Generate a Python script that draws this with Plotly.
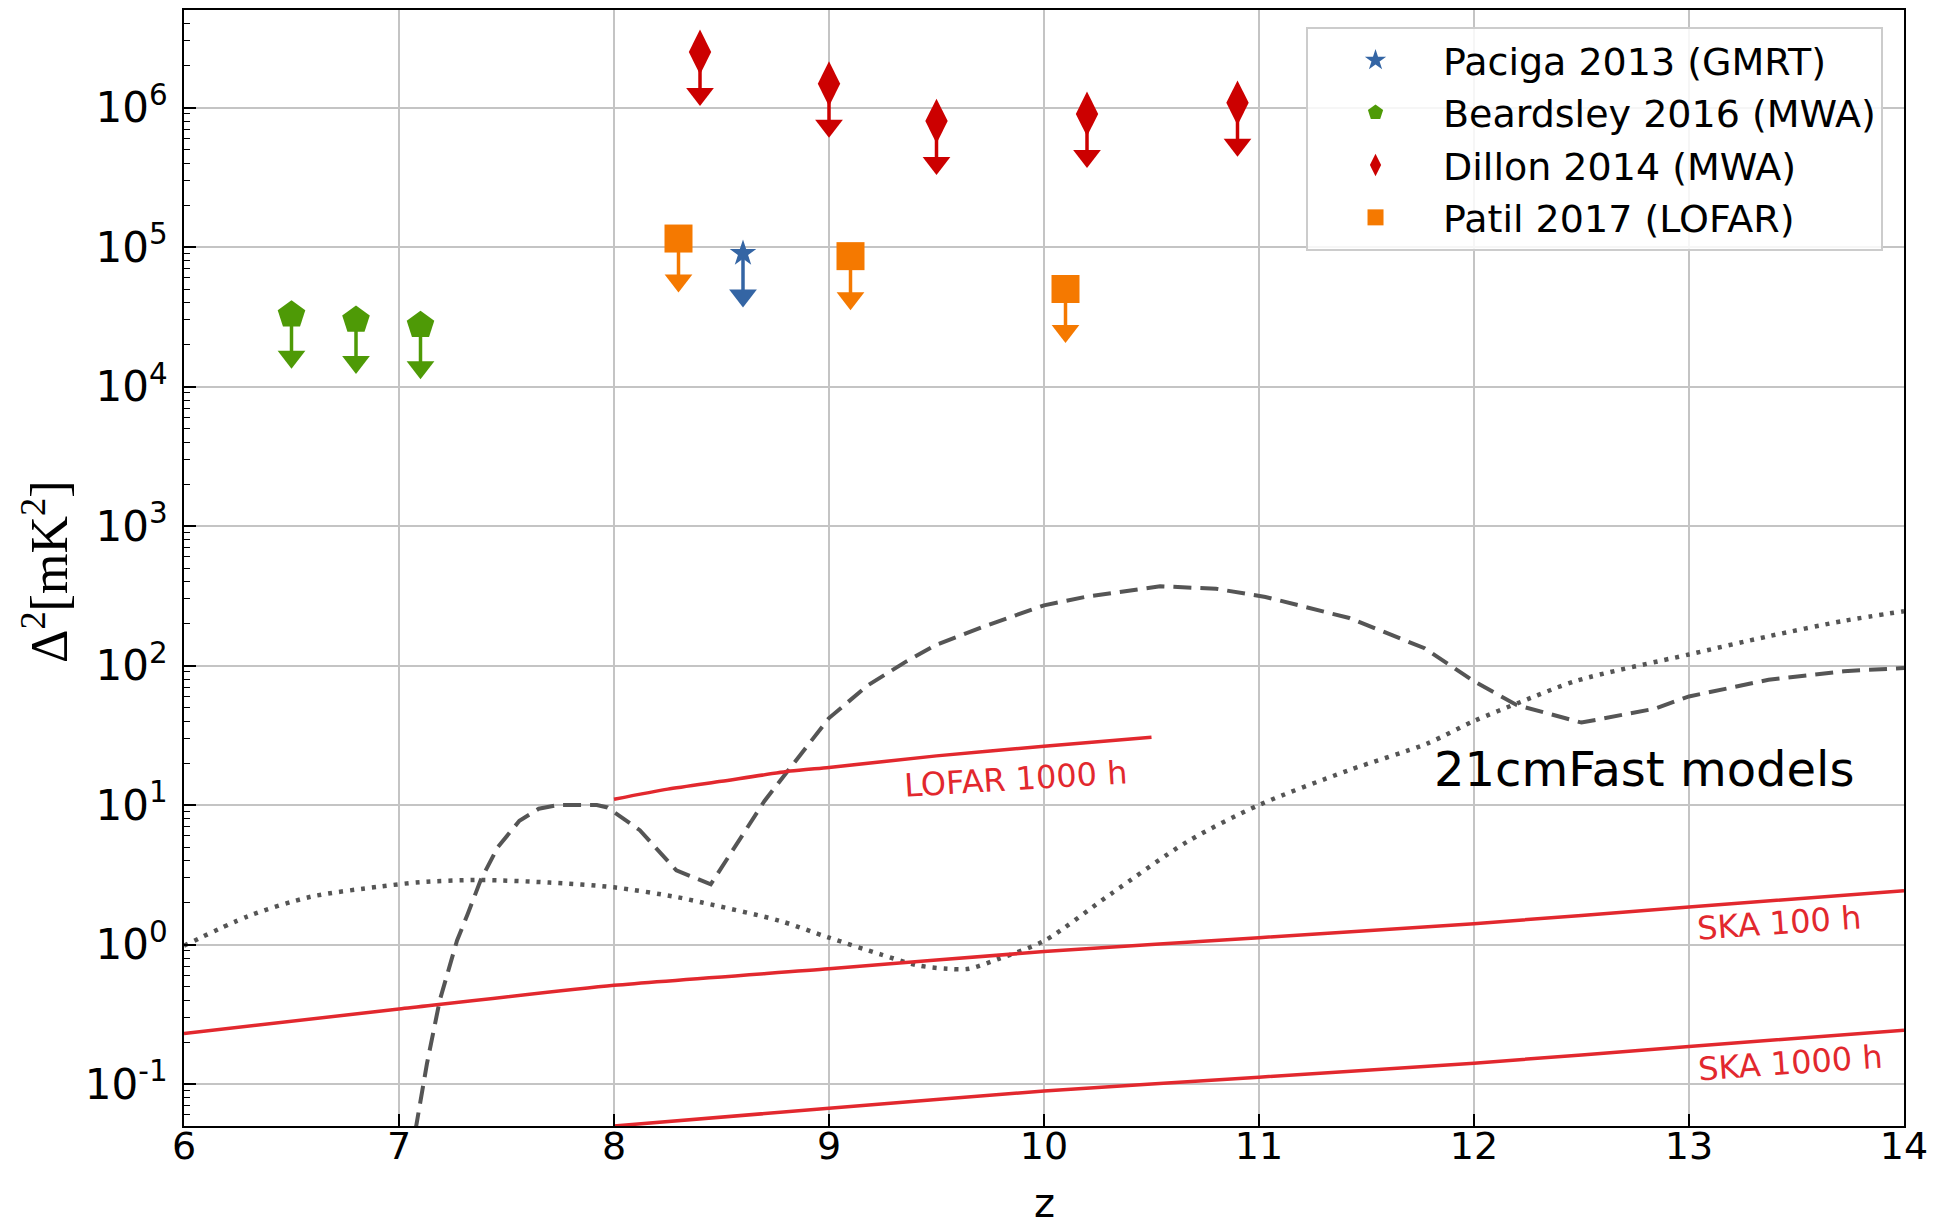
import plotly.graph_objects as go

# ---------------- data ----------------
# Upper limits on the 21cm power spectrum
paciga_z = [8.6]
paciga_d2 = [9.0e4]

beardsley_z = [6.5, 6.8, 7.1]
beardsley_d2 = [3.27e4, 3.0e4, 2.75e4]

dillon_z = [8.4, 9.0, 9.5, 10.2, 10.9]
dillon_d2 = [2.5e6, 1.48e6, 8.0e5, 9.0e5, 1.08e6]

patil_z = [8.3, 9.1, 10.1]
patil_d2 = [1.15e5, 8.6e4, 5.0e4]

# 21cmFast models
model_a_z = [7.00, 7.05, 7.08, 7.13, 7.19, 7.27, 7.32, 7.38, 7.46, 7.56, 7.65, 7.74,
             7.92, 7.97, 8.12, 8.29, 8.45, 8.70, 8.82, 9.00, 9.18, 9.36, 9.50, 9.72,
             10.00, 10.19, 10.54, 10.80, 11.03, 11.42, 11.77, 12.00, 12.20, 12.50,
             12.84, 13.00, 13.37, 13.72, 14.00]
model_a_d2 = [0.02, 0.04, 0.05, 0.14, 0.4, 1.07, 1.66, 2.9, 5.0, 7.7, 9.4, 10.0,
              10.0, 9.6, 6.6, 3.4, 2.7, 10.7, 18.5, 42, 72, 107, 141, 190,
              270, 310, 370, 355, 310, 219, 133, 77, 52, 39,
              49, 60, 79, 91, 96]

model_b_z = [6.00, 6.30, 6.59, 6.91, 7.10, 7.38, 7.70, 8.00, 8.29, 8.41, 8.77, 9.00,
             9.24, 9.41, 9.55, 9.65, 9.79, 10.00, 10.31, 10.67, 11.00, 11.42, 11.78,
             12.00, 12.22, 12.48, 13.00, 13.37, 13.72, 14.00]
model_b_d2 = [0.98, 1.6, 2.2, 2.6, 2.8, 2.9, 2.78, 2.57, 2.19, 2.0, 1.48, 1.12,
              0.85, 0.71, 0.67, 0.67, 0.79, 1.06, 2.3, 5.5, 10, 17.8, 27.5,
              40, 55, 78, 120, 162, 209, 245]

# Sensitivity curves
lofar_z = [8.0, 8.25, 8.5, 8.82, 9.0, 9.5, 10.0, 10.5]
lofar_d2 = [11.0, 13.0, 14.8, 17.5, 18.6, 22.5, 26.4, 30.6]

ska100_z = [6, 7, 8, 9, 10, 11, 12, 13, 14]
ska100_d2 = [0.23, 0.345, 0.51, 0.67, 0.89, 1.12, 1.41, 1.86, 2.43]

ska1000_z = [8, 9, 10, 11, 12, 13, 14]
ska1000_d2 = [0.05, 0.067, 0.089, 0.112, 0.141, 0.186, 0.243]

y_tickvals = [1e-1, 1e0, 1e1, 1e2, 1e3, 1e4, 1e5, 1e6]
y_ticktext = ["10<sup>-1</sup>", "10<sup>0</sup>", "10<sup>1</sup>", "10<sup>2</sup>",
              "10<sup>3</sup>", "10<sup>4</sup>", "10<sup>5</sup>", "10<sup>6</sup>"]
x_tickvals = [6, 7, 8, 9, 10, 11, 12, 13, 14]
x_range = [6, 14]

x_title = "z"
y_title = "Δ<sup>2</sup>[mK<sup>2</sup>]"

# ---------------- styling ----------------
BLUE = "#3465a4"
GREEN = "#4e9a06"
DRED = "#cc0000"
ORANGE = "#f57900"
LRED = "#e2282e"
GREY = "#555555"
FONT = "DejaVu Sans"
LIM_FRAC = 0.5  # upper-limit arrow extends to half the value

fig = go.Figure()

# model and sensitivity lines (drawn first, under the markers)
fig.add_trace(go.Scatter(x=model_a_z, y=model_a_d2, mode="lines", showlegend=False,
                         line=dict(color=GREY, width=4, dash="18px,9px")))
fig.add_trace(go.Scatter(x=model_b_z, y=model_b_d2, mode="lines", showlegend=False,
                         line=dict(color=GREY, width=4.5, dash="4px,7px",
                                   shape="spline", smoothing=0.8)))
fig.add_trace(go.Scatter(x=lofar_z, y=lofar_d2, mode="lines", showlegend=False,
                         line=dict(color=LRED, width=3.5, shape="spline", smoothing=0.6)))
fig.add_trace(go.Scatter(x=ska1000_z, y=ska1000_d2, mode="lines", showlegend=False,
                         line=dict(color=LRED, width=3.5, shape="spline", smoothing=0.6)))
# this one lives on the twin x axis that carries the tick labels (same range)
fig.add_trace(go.Scatter(x=ska100_z, y=ska100_d2, mode="lines", showlegend=False,
                         xaxis="x2",
                         line=dict(color=LRED, width=3.5, shape="spline", smoothing=0.6)))


def add_limits(z, v, name, color, symbol, size):
    # marker with arrow shaft (error bar pointing down)
    fig.add_trace(go.Scatter(
        x=z, y=v, mode="markers", name=name, legendgroup=name,
        marker=dict(color=color, symbol=symbol, size=size, line=dict(width=0)),
        error_y=dict(type="data", symmetric=False, array=[0] * len(v),
                     arrayminus=[val * LIM_FRAC for val in v],
                     color=color, thickness=3.5, width=0),
    ))
    # arrow head
    fig.add_trace(go.Scatter(
        x=z, y=[val * (1 - LIM_FRAC) for val in v], mode="markers",
        legendgroup=name, showlegend=False,
        marker=dict(color=color, symbol="triangle-down", size=24, line=dict(width=0)),
    ))


add_limits(paciga_z, paciga_d2, "Paciga 2013 (GMRT)", BLUE, "star", 20)
add_limits(beardsley_z, beardsley_d2, "Beardsley 2016 (MWA)", GREEN, "pentagon", 29)
add_limits(dillon_z, dillon_d2, "Dillon 2014 (MWA)", DRED, "diamond-tall", 32)
add_limits(patil_z, patil_d2, "Patil 2017 (LOFAR)", ORANGE, "square", 28)

# text labels
fig.add_annotation(x=9.87, y=1.19, text="LOFAR 1000 h", showarrow=False, textangle=-3.5,
                   font=dict(family=FONT, size=32, color=LRED))
fig.add_annotation(x=13.42, y=0.157, text="SKA 100 h", showarrow=False, textangle=-4,
                   font=dict(family=FONT, size=32, color=LRED))
fig.add_annotation(x=13.47, y=-0.851, text="SKA 1000 h", showarrow=False, textangle=-4,
                   font=dict(family=FONT, size=32, color=LRED))
fig.add_annotation(x=12.79, y=1.258, text="21cmFast models", showarrow=False,
                   font=dict(family=FONT, size=48, color="black"))

# axis titles
fig.add_annotation(xref="paper", yref="paper", x=0.5, y=-0.0690, text=x_title,
                   showarrow=False, xanchor="center", yanchor="middle",
                   font=dict(family=FONT, size=40, color="black"))
fig.add_annotation(xref="paper", yref="paper", x=-0.0808, y=0.4964, text=y_title,
                   showarrow=False, xanchor="center", yanchor="middle", textangle=-90,
                   font=dict(family="Liberation Serif", size=52, color="black"))

fig.update_layout(
    width=1945, height=1229,
    margin=dict(l=184, r=41, t=10, b=103),
    paper_bgcolor="white", plot_bgcolor="white",
    font=dict(family=FONT, color="black"),
    legend=dict(x=0.9878, y=0.9848, xanchor="right", yanchor="top",
                bgcolor="rgba(255,255,255,0.85)", bordercolor="#cccccc", borderwidth=2,
                font=dict(family=FONT, size=38, color="black"),
                itemwidth=125, tracegroupgap=6, traceorder="normal"),
    xaxis2=dict(range=x_range, overlaying="x", anchor="free", position=0.0054,
                side="bottom", tickvals=x_tickvals, ticks="", showline=False,
                showgrid=False, zeroline=False, automargin=False,
                tickfont=dict(family=FONT, size=38, color="black")),
)

fig.update_xaxes(
    selector=dict(overlaying=None),
    range=x_range, tickvals=x_tickvals, ticks="inside", ticklen=12, tickwidth=1.5,
    tickcolor="black", showline=True, linecolor="black", linewidth=2, mirror=True,
    showgrid=True, gridcolor="#c4c4c4", gridwidth=1.5, zeroline=False, automargin=False,
    showticklabels=False,
)
fig.update_yaxes(
    type="log", range=[-1.301, 6.699], tickvals=y_tickvals, ticktext=y_ticktext,
    ticks="inside", ticklen=12, tickwidth=1.5, tickcolor="black",
    minor=dict(ticks="inside", ticklen=6, tickwidth=1, tickcolor="black", dtick="D1",
               showgrid=False),
    showline=True, linecolor="black", linewidth=2, mirror=True, automargin=False,
    showgrid=True, gridcolor="#c4c4c4", gridwidth=1.5, zeroline=False,
    tickfont=dict(family=FONT, size=42), ticklabelstandoff=6,
)

fig.write_html("out.html")
